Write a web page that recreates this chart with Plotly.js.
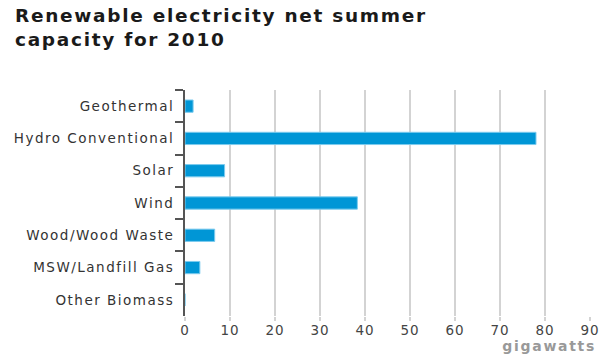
<!DOCTYPE html>
<html>
<head>
<meta charset="utf-8">
<script src="https://cdn.plot.ly/plotly-3.0.1.min.js"></script>
<style>
html,body{margin:0;padding:0;background:#fff;}
#chart{width:600px;height:360px;}
#chart .ytick text{letter-spacing:1.5px;}
#chart .xtick text{letter-spacing:1px;}
#chart .annotation-text{letter-spacing:1.7px;}
</style>
</head>
<body>
<div id="chart"></div>
<script>
var categories = ["Geothermal", "Hydro Conventional", "Solar", "Wind", "Wood/Wood Waste", "MSW/Landfill Gas", "Other Biomass"];
var capacityGW = [1.8, 78.0, 8.8, 38.3, 6.6, 3.3, 0];
var xTickValues = [0, 10, 20, 30, 40, 50, 60, 70, 80, 90];
var chartTitle = "Renewable electricity net summer<br>capacity for 2010";
var unitLabel = "gigawatts";

var trace = {
  type: "bar",
  orientation: "h",
  y: categories,
  x: capacityGW,
  marker: {color: "#0096d6", line: {color: "#7ccbee", width: 1}},
  width: 0.38,
  hoverinfo: "x+y"
};

var layout = {
  width: 600, height: 360,
  margin: {l: 185, r: 10, t: 90, b: 44},
  paper_bgcolor: "#fff", plot_bgcolor: "#fff",
  font: {family: "DejaVu Sans, sans-serif", color: "#333", size: 13},
  xaxis: {
    range: [0, 90],
    tickvals: xTickValues,
    showgrid: true, gridcolor: "#d3d3d3", gridwidth: 2,
    zeroline: false,
    ticks: "outside", ticklen: 4, tickcolor: "#d3d3d3", tickwidth: 2,
    ticklabelstandoff: -2,
    ticklabeloverflow: "allow",
    tickfont: {size: 13.5, color: "#444"},
    showline: false, fixedrange: true
  },
  yaxis: {
    autorange: "reversed",
    tickson: "boundaries",
    ticks: "outside", ticklen: 8, tickcolor: "#555", tickwidth: 2,
    showline: true, linecolor: "#555", linewidth: 2,
    showgrid: false, zeroline: false,
    ticklabelstandoff: 6,
    tickfont: {size: 13.5, color: "#333"},
    fixedrange: true
  },
  annotations: [{
    text: "<b>" + chartTitle + "</b>",
    xref: "paper", yref: "paper",
    x: -(185 - 13) / 405, y: 1 + (90 - 3) / 226,
    xanchor: "left", yanchor: "top", align: "left", showarrow: false,
    font: {family: "DejaVu Sans, sans-serif", size: 18.5, color: "#1a1a1a"}
  }, {
    text: "<b>" + unitLabel + "</b>",
    xref: "paper", yref: "paper", x: 1, y: -(336 - 316) / 226,
    xanchor: "right", yanchor: "top", showarrow: false,
    font: {family: "DejaVu Sans, sans-serif", size: 14, color: "#999"}
  }],
  showlegend: false
};

Plotly.newPlot("chart", [trace], layout, {displayModeBar: false, staticPlot: true});
</script>
</body>
</html>
